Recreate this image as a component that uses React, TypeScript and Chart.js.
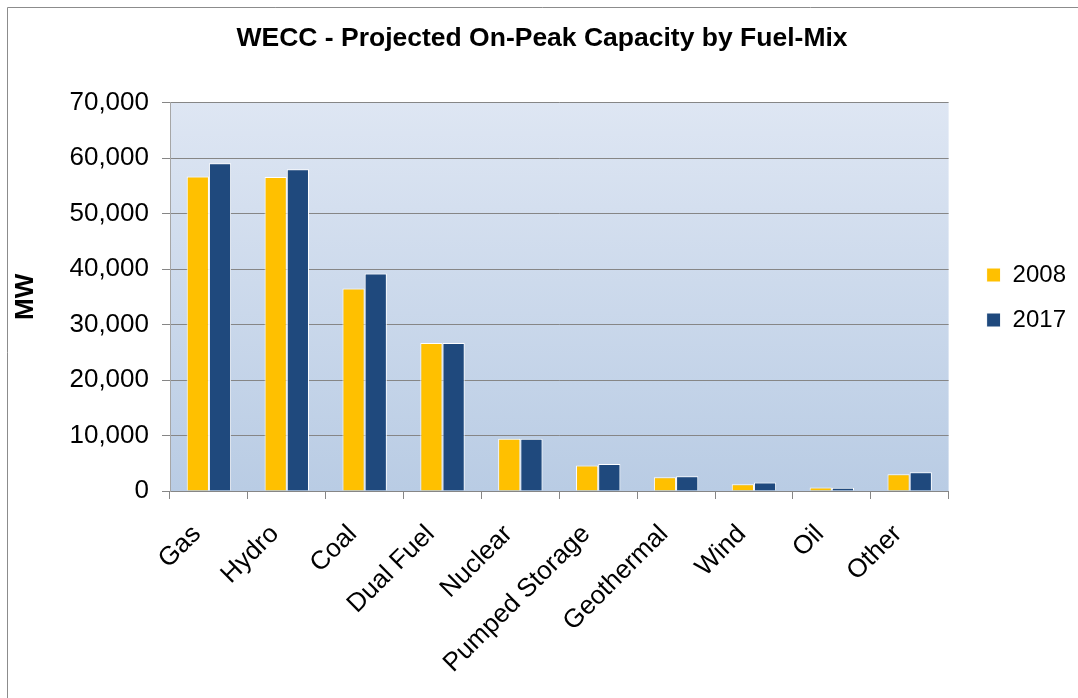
import React, { useEffect, useRef } from "react";
import { Chart, registerables } from "chart.js";

Chart.register(...registerables);

const categories = ["Gas", "Hydro", "Coal", "Dual Fuel", "Nuclear", "Pumped Storage", "Geothermal", "Wind", "Oil", "Other"];
const values2008 = [56700, 56600, 36500, 26700, 9400, 4600, 2500, 1200, 650, 3000];
const values2017 = [59100, 58000, 39200, 26700, 9400, 4850, 2650, 1550, 600, 3400];
const seriesNames = ["2008", "2017"];
const yTicks = [0, 10000, 20000, 30000, 40000, 50000, 60000, 70000];

const FONT = "'Liberation Sans', Arial, sans-serif";
const GRID = "#868686";

const backgroundPlugin = {
  id: "bgFrame",
  beforeDraw(chart: any) {
    const { ctx, width, height, chartArea } = chart;
    ctx.save();
    ctx.fillStyle = "#ffffff";
    ctx.fillRect(0, 0, width, height);
    const g = ctx.createLinearGradient(0, chartArea.top, 0, chartArea.bottom);
    g.addColorStop(0, "#dee6f3");
    g.addColorStop(1, "#b9cce4");
    ctx.fillStyle = g;
    ctx.fillRect(chartArea.left, chartArea.top, chartArea.right - chartArea.left, chartArea.bottom - chartArea.top);
    ctx.strokeStyle = "#8c8c8c";
    ctx.lineWidth = 1;
    ctx.beginPath();
    ctx.moveTo(7.5, height);
    ctx.lineTo(7.5, 7.5);
    ctx.lineTo(width, 7.5);
    ctx.stroke();
    ctx.restore();
  },
};

export default function App() {
  const ref = useRef<HTMLCanvasElement | null>(null);
  useEffect(() => {
    if (!ref.current) return;
    const chart = new Chart(ref.current, {
      type: "bar",
      data: {
        labels: categories,
        datasets: [
          {
            label: seriesNames[0],
            data: values2008,
            backgroundColor: "#ffc000",
            borderColor: "#ffffff",
            borderWidth: 1,
            barPercentage: 1,
            categoryPercentage: 0.57,
          },
          {
            label: seriesNames[1],
            data: values2017,
            backgroundColor: "#1f497d",
            borderColor: "#ffffff",
            borderWidth: 1,
            barPercentage: 1,
            categoryPercentage: 0.57,
          },
        ],
      },
      options: {
        responsive: false,
        animation: false,
        devicePixelRatio: 1,
        layout: { padding: { top: 0, left: 8, right: 2, bottom: 0 } },
        plugins: {
          title: {
            display: true,
            text: "WECC - Projected On-Peak Capacity by Fuel-Mix",
            color: "#000000",
            font: { family: FONT, size: 26.5, weight: "bold" },
            padding: { top: 23, bottom: 48 },
          },
          legend: {
            display: true,
            position: "right",
            align: "start",
            title: {
              display: true,
              text: "",
              font: { family: FONT, size: 10, lineHeight: 1 },
              padding: { top: 232, bottom: 0 },
            },
            labels: {
              color: "#000000",
              font: { family: FONT, size: 24 },
              boxWidth: 14,
              boxHeight: 14,
              padding: 21,
            },
          },
          tooltip: { enabled: false },
        },
        scales: {
          x: {
            grid: {
              display: true,
              drawOnChartArea: false,
              drawTicks: true,
              tickLength: 8,
              color: GRID,
            },
            border: { display: true, color: GRID, width: 1 },
            ticks: {
              color: "#000000",
              font: { family: FONT, size: 26 },
              maxRotation: 45,
              minRotation: 45,
              padding: 20,
              labelOffset: -12,
              autoSkip: false,
            },
            afterFit: (s: any) => {
              s.height = 207;
            },
          },
          y: {
            min: 0,
            max: 70000,
            afterBuildTicks: (s: any) => {
              s.ticks = yTicks.map((v) => ({ value: v }));
            },
            grid: { color: GRID, lineWidth: 1, drawTicks: true, tickLength: 8 },
            border: { display: true, color: "#a6a6a6", width: 1 },
            ticks: {
              color: "#000000",
              font: { family: FONT, size: 26 },
              padding: 13,
              callback: (v: any) => Number(v).toLocaleString("en-US"),
            },
            title: {
              display: true,
              text: "MW",
              color: "#000000",
              font: { family: FONT, size: 26, weight: "bold" },
              padding: { top: 2, bottom: 0 },
            },
            afterFit: (s: any) => {
              s.width = 162;
            },
          },
          pad: {
            type: "linear",
            position: "right",
            display: true,
            grid: { display: false, drawTicks: false },
            border: { display: false },
            ticks: { display: false },
            afterFit: (s: any) => {
              s.width = 17;
            },
          },
        },
      },
      plugins: [backgroundPlugin],
    } as any);
    return () => chart.destroy();
  }, []);
  return (
    <canvas
      ref={ref}
      width={1078}
      height={698}
      style={{ position: "fixed", left: 0, top: 0, display: "block" }}
    />
  );
}
